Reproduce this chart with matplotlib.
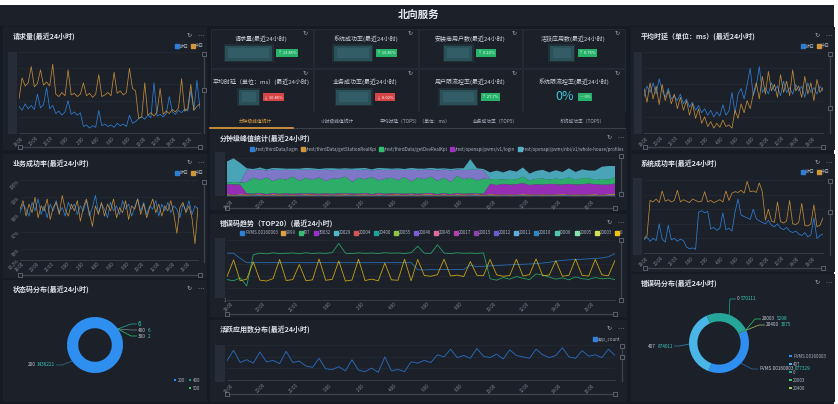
import numpy as np
import matplotlib
matplotlib.use('Agg')
import matplotlib.pyplot as plt
from matplotlib.patches import Rectangle
from matplotlib.lines import Line2D

plt.rcParams['font.family'] = ['Noto Sans CJK SC', 'DejaVu Sans']

# ---------------- 数据 ----------------
hour_labels = ['18:00', '20:00', '22:00', '0:00', '2:00', '4:00',
               '6:00', '8:00', '10:00', '12:00', '14:00', '16:00']
day_names = ['昨日', '今日']

# 请求量(最近24小时)
req_yesterday = [33, 28, 36, 30, 34, 29, 48, 31, 35, 56, 30, 34, 24, 27, 22, 26, 40, 23, 26, 22,
                 25, 8, 10, 6, 9, 7, 28, 9, 11, 8, 10, 7, 12, 9, 11, 8, 22, 12, 14, 18,
                 20, 17, 22, 19, 62, 21, 23, 20, 24, 45, 26, 23, 28, 25, 30, 27, 52, 28, 65, 30]
req_today = [42, 68, 58, 62, 82, 57, 61, 78, 59, 63, 58, 85, 48, 45, 50, 46, 78, 47, 49, 45,
             48, 62, 46, 49, 44, 48, 72, 45, 47, 50, 46, 75, 49, 52, 47, 50, 80, 55, 52, 18,
             20, 62, 22, 25, 21, 26, 55, 23, 27, 24, 29, 26, 31, 67, 27, 30, 60, 28, 33, 36]

# 业务成功率(最近24小时), %
biz_yesterday = [98.1, 98.6, 98.3, 97.9, 98.7, 98.2, 98.9, 98.0, 98.5, 97.8, 98.6, 98.2, 98.8, 98.1, 98.4,
                 97.9, 98.7, 98.3, 98.6, 98.0, 98.5, 98.2, 98.8, 97.9, 98.4, 99.1, 98.1, 98.6, 98.3, 97.8,
                 98.7, 98.2, 98.5, 98.0, 98.8, 98.3, 98.6, 97.9, 98.4, 98.9, 98.2, 98.7, 98.0, 98.5, 98.3,
                 98.8, 97.9, 98.6, 98.2, 98.7, 98.1, 98.5, 98.3, 97.8, 98.6, 98.2, 98.8, 98.0, 98.5, 98.3]
biz_today = [98.3, 98.8, 97.9, 98.6, 98.1, 99.0, 97.8, 98.5, 98.2, 98.9, 97.7, 98.4, 98.7, 98.0, 99.1,
             98.3, 97.9, 98.6, 98.2, 98.8, 97.6, 98.4, 98.9, 98.1, 97.3, 98.5, 98.0, 98.7, 97.9, 98.6,
             98.2, 98.9, 97.8, 98.4, 98.1, 98.8, 97.7, 98.5, 98.3, 98.9, 98.0, 98.6, 97.8, 98.4, 98.9,
             98.1, 98.6, 97.9, 98.5, 98.2, 98.8, 98.0, 96.9, 98.4, 98.7, 98.1, 98.5, 97.8, 96.3, 98.4]
biz_ticks = [95.35, 96, 97, 98, 99, 100]
biz_tick_labels = ['95.3%', '96%', '97%', '98%', '99%', '100%']

# 平均时延（单位：ms）(最近24小时)
lat_yesterday = [45, 58, 50, 62, 48, 67, 52, 44, 55, 42, 46, 40, 48, 36, 42, 32, 38, 28, 34, 25,
                 30, 22, 28, 20, 26, 21, 35, 22, 27, 50, 24, 48, 55, 42, 60, 80, 46, 58, 82, 50,
                 56, 48, 62, 52, 58, 46, 64, 50, 56, 48, 60, 52, 58, 44, 62, 50, 56, 48, 58, 52]
lat_today = [55, 38, 62, 42, 58, 35, 60, 40, 52, 36, 48, 30, 44, 28, 40, 22, 36, 18, 30, 12,
             20, 8, 14, 6, 12, 7, 16, 8, 10, 6, 28, 18, 36, 25, 40, 30, 48, 62, 42, 70,
             48, 76, 52, 60, 44, 72, 50, 64, 46, 78, 52, 58, 44, 70, 48, 62, 40, 66, 50, 56]

# 系统成功率(最近24小时)
sys_yesterday = [18, 22, 16, 20, 17, 40, 19, 15, 38, 18, 20, 16, 19, 17, 8, 6, 7, 5, 56, 58,
                 55, 57, 33, 35, 31, 34, 55, 32, 34, 30, 56, 74, 52, 50, 48, 46, 60, 47, 44, 42,
                 40, 45, 38, 36, 40, 34, 32, 35, 30, 28, 30, 26, 24, 28, 22, 25, 48, 20, 24, 26]
sys_today = [20, 24, 72, 70, 74, 69, 85, 71, 73, 70, 72, 86, 70, 73, 71, 69, 74, 72, 70, 71,
             84, 70, 72, 69, 71, 73, 70, 85, 72, 82, 84, 83, 86, 82, 98, 84, 85, 83, 96, 84,
             45, 60, 44, 42, 70, 43, 41, 44, 72, 40, 39, 42, 68, 38, 37, 40, 66, 36, 38, 48]

# 分钟级峰值统计(最近24小时)
api_names = ['/rest/thirdData/login', '/rest/thirdData/getStationRealKpi',
             '/rest/thirdData/getDevRealKpi', '/rest/openapi/pvms/v1/login',
             '/rest/openapi/pvms/nbi/v1/whole-house/profiles']
peak_login = [2, 1, 2, 1, 2, 2, 1, 2, 1, 2, 1, 2, 2, 1, 2, 1, 2, 1, 2, 2,
              1, 2, 1, 2, 2, 1, 2, 1, 2, 1, 2, 2, 1, 2, 1, 2, 1, 2, 2, 1,
              2, 1, 2, 1, 2, 2, 1, 2, 1, 2, 1, 2, 2, 1, 2, 1, 2, 1, 2, 2]
peak_station = [3, 2, 3, 3, 2, 3, 2, 3, 3, 2, 3, 2, 3, 3, 2, 3, 2, 3, 3, 2,
                3, 3, 2, 3, 2, 3, 3, 2, 3, 2, 3, 3, 2, 3, 2, 3, 3, 2, 3, 2,
                3, 3, 2, 3, 2, 3, 3, 2, 3, 2, 3, 3, 2, 3, 2, 3, 3, 2, 3, 3]
peak_dev_kpi = [4, 6, 5, 30, 42, 34, 44, 31, 40, 36, 45, 33, 41, 35, 43, 32, 40, 38, 44, 30,
                42, 36, 45, 33, 39, 41, 34, 44, 31, 42, 37, 43, 35, 40, 32, 45, 38, 41, 34, 40,
                12, 16, 11, 15, 13, 17, 12, 14, 16, 11, 15, 13, 17, 12, 16, 14, 11, 15, 13, 16]
peak_pvms_login = [26, 28, 25, 3, 2, 3, 2, 3, 2, 3, 2, 3, 2, 3, 2, 3, 2, 3, 2, 3,
                   2, 3, 2, 3, 2, 3, 2, 3, 2, 3, 2, 3, 2, 3, 2, 3, 2, 3, 2, 3,
                   27, 25, 28, 26, 27, 29, 25, 27, 26, 28, 27, 25, 28, 26, 27, 29, 26, 27, 25, 28]
peak_profiles = [56, 62, 52, 4, 3, 5, 3, 4, 5, 3, 4, 3, 5, 4, 3, 4, 5, 3, 4, 3,
                 5, 4, 3, 4, 5, 3, 4, 3, 5, 4, 3, 4, 5, 3, 4, 3, 5, 28, 4, 3,
                 18, 22, 19, 23, 20, 24, 18, 21, 23, 19, 22, 20, 24, 21, 23, 20, 25, 32, 36, 30]
# 图例被截断的第六个接口
peak_other = [0, 0, 0, 32, 20, 28, 18, 31, 22, 26, 17, 29, 21, 27, 19, 30, 22, 24, 18, 32,
              20, 26, 17, 29, 23, 21, 28, 18, 31, 20, 25, 19, 27, 22, 30, 17, 24, 21, 28, 22,
              0, 0, 0, 0, 0, 0, 0, 0, 0, 0, 0, 0, 0, 0, 0, 0, 0, 0, 0, 0]

# 错误码趋势（TOP20）(最近24小时)
err_codes = ['PVMS.00160003', '9999', '407', '30032', '20029', '20004', '20400', '20055', '20046',
             '20045', '20017', '20015', '20012', '20011', '20010', '20006', '20005', '20003', '0']
err_colors = ['#2f7fd6', '#e0a040', '#2fbf71', '#9b30c8', '#4fb8c9', '#d9534f', '#1aa39a',
              '#8dc63f', '#7b5cd6', '#e06b9a', '#b03fb0', '#8e44ad', '#6a5acd', '#5dade2',
              '#2e86c1', '#48c9b0', '#82e0aa', '#d4e157', '#f1c40f']
err_pvms = [8000, 7800, 3000, 1300, 1280, 1310, 1290, 1300, 1270, 1300, 1290, 1310, 1280, 1300, 1290,
            1300, 1310, 1280, 1300, 1290, 1300, 1280, 1310, 1290, 1300, 1280, 1300, 1290, 1310, 330,
            320, 340, 330, 350, 330, 360, 350, 800, 600, 650, 700, 750, 800, 850, 900,
            950, 1000, 1100, 1200, 1400, 1700, 2000, 2200, 2400, 2500, 2700, 2900, 3200, 4000, 7500]
err_407 = [50, 40, 70, 15, 6000, 8000, 7000, 8500, 7200, 7800, 8300, 7100, 8600, 7400, 8100,
           7600, 8800, 52000, 8000, 7300, 8400, 7700, 8200, 7500, 8600, 7900, 8300, 7400, 8700, 30000,
           8000, 7600, 40000, 8200, 7300, 8500, 7800, 8100, 7600, 8400, 60, 45, 75, 55, 90,
           65, 50, 150, 120, 80, 55, 70, 48, 85, 60, 52, 75, 58, 66, 50]
err_0 = [90, 2200, 40, 55, 1500, 45, 38, 60, 2400, 42, 50, 900, 40, 48, 2600, 44, 52, 1800, 38, 46,
         2500, 42, 55, 40, 1200, 48, 44, 2500, 40, 2400, 110, 95, 130, 2500, 100, 120, 90, 1600, 115, 105,
         2400, 125, 95, 110, 2500, 100, 130, 2700, 105, 120, 1900, 95, 115, 2600, 110, 100, 2400, 125, 105, 2000]
err_20055 = [1, 1, 1, 1, 1, 1, 1, 1, 1, 1, 1, 1, 1, 1, 1, 1, 1, 1, 1, 1,
             1, 1, 1, 1, 1, 1, 1, 1, 1, 1, 1, 1, 1, 1, 1, 1, 1, 1, 1, 1,
             1, 1, 1, 1, 1, 1, 1, 1, 1, 1, 1, 1, 1, 1, 1, 1, 1, 1, 1, 1]

# 活跃应用数分布(最近24小时)
app_count = [55, 85, 50, 58, 48, 80, 52, 56, 47, 82, 50, 54, 40, 36, 62, 32, 30, 38, 26, 58,
             28, 24, 34, 22, 66, 26, 30, 24, 52, 48, 56, 50, 72, 66, 88, 64, 70, 62, 90, 68,
             64, 74, 60, 86, 70, 66, 62, 88, 72, 64, 70, 92, 66, 62, 84, 68, 72, 64, 88, 70]

# 状态码分布(最近24小时)
status_codes = ['200', '500', '400', '300']
status_counts = [1436221, 6, 6, 2]
status_legend = ['200', '400', '500']

# 错误码分布(最近24小时)
err_dist_codes = ['PVMS.00160003', '407', '0', '20003', '20400']
err_dist_counts = [877329, 874011, 570111, 5298, 3075]

# 指标卡片
kpi_titles = ['请求量(最近24小时)', '系统成功率(最近24小时)', '安装商用户数(最近24小时)', '活跃应用数(最近24小时)',
              '平均时延（单位：ms）(最近24小时)', '业务成功率(最近24小时)', '用户限流控率(最近24小时)', '系统限流控率(最近24小时)']
kpi_changes = ['13.85%', '16.81%', '0.22%', '0.75%', '10.85%', '0.02%', '27.7%', '0%']
kpi_trend = ['up', 'up', 'up', 'up', 'down', 'down', 'up', 'flat']
kpi_last_value = '0%'

tab_names = ['分钟级峰值统计', '小时级峰值统计', '平均时延（TOP5）（单位：ms）', '业务成功率（TOP5）', '系统成功率（TOP5）']

# ---------------- 样式 ----------------
W, H = 838, 404
BG = '#151a23'
PANEL = '#1b2029'
GRID = '#262c37'
TXT = '#dfe4ec'
TICK = '#7f8796'
BLUE = '#2f7ed4'
ORANGE = '#d2963a'
TEAL = '#3cc9bd'
ICON = ['DejaVu Sans']

fig = plt.figure(figsize=(W / 100, H / 100), dpi=100, facecolor='white')
bg = fig.add_axes([0, 0, 1, 1])
bg.set_xlim(0, W)
bg.set_ylim(H, 0)
bg.axis('off')
bg.add_patch(Rectangle((0, 5), 834, H - 5, fc=BG, lw=0))
renderer = fig.canvas.get_renderer()


def frame(x0, y0, x1, y1):
    return [x0 / W, 1 - y1 / H, (x1 - x0) / W, (y1 - y0) / H]


def width_of(t):
    return t.get_window_extent(renderer=renderer).width


def icons(x, y):
    bg.text(x - 11, y, '↻', color='#9aa2b0', fontsize=4.5, ha='center', va='center', family=ICON)
    bg.text(x, y, '⋯', color='#9aa2b0', fontsize=4.5, ha='center', va='center', family=ICON)


def panel(x0, y0, x1, y1, title):
    bg.add_patch(Rectangle((x0, y0), x1 - x0, y1 - y0, fc=PANEL, lw=0))
    bg.text(x0 + 10, y0 + 9, title, color=TXT, fontsize=5, fontweight='bold', va='center')
    icons(x1 - 7, y0 + 8)


def strip(x0, y0, x1, y1):
    bg.add_patch(Rectangle((x0, y0), x1 - x0, y1 - y0, fc='#272d38', lw=0))


def vslider(x, y0, y1, handles):
    bg.plot([x, x], [y0, y1], color='#3d434f', lw=0.9)
    for hy in handles:
        bg.add_patch(Rectangle((x - 1.8, hy - 1.8), 3.6, 3.6, fc=PANEL, ec='#727886', lw=0.5, zorder=3))


def hslider(y, x0, x1):
    bg.plot([x0, x1], [y, y], color='#3d434f', lw=0.9)
    for hx in (x0, x1):
        bg.add_patch(Rectangle((hx - 1.6, y - 1.6), 3.2, 3.2, fc=PANEL, ec='#727886', lw=0.5, zorder=3))


def chart(box, ylim, n, log=False):
    ax = fig.add_axes(frame(*box))
    ax.set_facecolor('none')
    if log:
        ax.set_yscale('log')
    ax.set_xlim(0, n - 1)
    ax.set_ylim(*ylim)
    for s in ['top', 'right', 'left']:
        ax.spines[s].set_visible(False)
    ax.spines['bottom'].set_color('#3b424e')
    ax.spines['bottom'].set_linewidth(0.6)
    ax.grid(axis='y', color=GRID, lw=0.5)
    ax.set_axisbelow(True)
    ax.set_xticks(np.arange(len(hour_labels)) * 5 + 0.5)
    ax.set_xticklabels(hour_labels, rotation=45, ha='right', rotation_mode='anchor')
    ax.tick_params(length=0, labelsize=3.2, colors=TICK, pad=2, labelleft=False)
    ax.minorticks_off()
    return ax


def legend_at(ax, names, colors, x, y, loc, ncol, spacing=1.0):
    handles = [Line2D([], [], marker='s', ls='none', color=c, markersize=2.4) for c in colors]
    ax.legend(handles, names, loc=loc, bbox_to_anchor=(x / W, 1 - y / H), bbox_transform=fig.transFigure,
              ncol=ncol, frameon=False, fontsize=3.2, labelcolor='#aeb6c4', handlelength=0.6,
              handletextpad=0.3, columnspacing=spacing, borderpad=0, borderaxespad=0)


def two_day(box, yest, today, ylim):
    ax = chart(box, ylim, len(yest))
    x = np.arange(len(yest))
    ax.plot(x, yest, color=BLUE, lw=0.55)
    ax.plot(x, today, color=ORANGE, lw=0.55, alpha=0.9)
    ax.set_yticks(np.linspace(ylim[0], ylim[1], 6))
    ax.tick_params(labelleft=False)
    return ax


def label_pair(x, y, name, value, ha, big=False):
    size = 4.5 if big else 3.4
    if ha == 'left':
        t = bg.text(x, y, name, color='#c3c9d3', fontsize=3.4, va='center', ha='left')
        gap = width_of(t) + (1.5 if name else 0)
        bg.text(x + gap, y, value, color=TEAL, fontsize=size, va='center', ha='left')
    else:
        t = bg.text(x, y, value, color=TEAL, fontsize=size, va='center', ha='right')
        bg.text(x - width_of(t) - 1.5, y, name, color='#c3c9d3', fontsize=3.4, va='center', ha='right')


def donut(cx, cy, r, values, colors, start, width):
    ax = fig.add_axes(frame(cx - r, cy - r, cx + r, cy + r))
    wedges, _ = ax.pie(values, colors=colors, startangle=start, counterclock=False,
                       radius=1, wedgeprops=dict(width=width, lw=0))
    ax.set_xlim(-1, 1)
    ax.set_ylim(-1, 1)
    ax.axis('off')
    return wedges


def leaders(wedges, cx, cy, r, labels, place, colors, big_first=False):
    for i, (w, (tx, ty, ha)) in enumerate(zip(wedges, place)):
        a = np.deg2rad((w.theta1 + w.theta2) / 2)
        sx, sy = cx + r * np.cos(a), cy - r * np.sin(a)
        bx = tx - 7 if ha == 'left' else tx + 7
        ex = tx - 1.5 if ha == 'left' else tx + 1.5
        bg.plot([sx, bx, ex], [sy, ty, ty], color=colors[i], lw=0.5)
        name, value = labels[i]
        label_pair(tx, ty, name, value, ha, big=(big_first and i == 1))


# ---------------- 头部 ----------------
bg.add_patch(Rectangle((0, 5), 834, 21, fc=PANEL, lw=0))
bg.text(419, 15, '北向服务', color='#e8edf4', fontsize=7.5, fontweight='bold', ha='center', va='center')

# ---------------- 左列 ----------------
panel(3, 27, 207, 150, '请求量(最近24小时)')
strip(8, 52, 17, 134)
ax = two_day((19, 52, 200, 133), req_yesterday, req_today, (0, 100))
legend_at(ax, day_names, [BLUE, ORANGE], 204, 46, 'center right', 2, 0.6)
vslider(204, 54, 133, [54, 90])
hslider(147, 20, 200)

panel(3, 154, 207, 278, '业务成功率(最近24小时)')
ax = two_day((20, 180, 198, 260), biz_yesterday, biz_today, (95.35, 100))
ax.set_yticks(biz_ticks)
ax.set_yticklabels(biz_tick_labels)
ax.tick_params(labelleft=True, pad=1)
for lab in ax.get_yticklabels():
    lab.set_rotation(45)
    lab.set_ha('right')
    lab.set_rotation_mode('anchor')
legend_at(ax, day_names, [BLUE, ORANGE], 204, 173, 'center right', 2, 0.6)
vslider(204, 180, 262, [182])
hslider(275, 20, 200)

panel(3, 280, 207, 402, '状态码分布(最近24小时)')
status_colors = ['#2f8ff0', '#22b5a5', '#1a9c8a', '#2ecc71']
wd = donut(95, 345, 28, status_counts, status_colors, 35, 0.4)
status_labels = [(c if k != 1 else '', str(v)) for k, (c, v) in enumerate(zip(status_codes, status_counts))]
leaders(wd, 95, 345, 28, status_labels,
        [(55, 365, 'right'), (138, 324, 'left'), (138, 330, 'left'), (138, 336, 'left')],
        ['#3a6e9a', '#22b5a5', '#6f8f8a', '#2ecc71'], big_first=True)
legend_pos = [(175, 380), (190, 380), (190, 388)]
legend_col = {'200': '#2f8ff0', '400': '#1a9c8a', '500': '#2ecc71'}
for code, (lx, ly) in zip(status_legend, legend_pos):
    bg.add_patch(Rectangle((lx - 1.3, ly - 1.3), 2.6, 2.6, fc=legend_col[code], lw=0))
    bg.text(lx + 2.5, ly, code, color='#aeb6c4', fontsize=3.2, va='center')

# ---------------- 右列 ----------------
panel(631, 27, 835, 150, '平均时延（单位：ms）(最近24小时)')
strip(634, 52, 642, 134)
ax = two_day((644, 52, 823, 133), lat_yesterday, lat_today, (0, 100))
legend_at(ax, day_names, [BLUE, ORANGE], 830, 46, 'center right', 2, 0.6)
vslider(830, 54, 133, [54, 108])
hslider(147, 645, 823)

panel(631, 154, 835, 272, '系统成功率(最近24小时)')
strip(633, 178, 642, 255)
ax = two_day((644, 180, 823, 253), sys_yesterday, sys_today, (0, 100))
legend_at(ax, day_names, [BLUE, ORANGE], 830, 172, 'center right', 2, 0.6)
vslider(830, 180, 255, [181, 212])
hslider(268, 645, 823)

panel(631, 274, 835, 402, '错误码分布(最近24小时)')
dist_colors = ['#2f8ff0', '#4ab6e8', '#26a69a', '#2ecc71', '#9ccc65']
wd = donut(719, 343, 30, err_dist_counts, dist_colors, 25, 0.28)
dist_labels = [(c, str(v)) for c, v in zip(err_dist_codes, err_dist_counts)]
leaders(wd, 719, 343, 30, dist_labels,
        [(759, 369, 'left'), (673, 346, 'right'), (737, 299, 'left'), (762, 319, 'left'), (766, 325, 'left')],
        ['#2f6fb0', '#3a8fb8', '#26a69a', '#2ecc71', '#9ccc65'])
for k, (code, c) in enumerate(zip(err_dist_codes, dist_colors)):
    ly = 356 + k * 8
    bg.add_patch(Rectangle((789, ly - 1.4), 2.8, 2.8, fc=c, lw=0))
    bg.text(793, ly, code, color='#aeb6c4', fontsize=3.2, va='center')

# ---------------- 指标卡片 ----------------
cols = [210, 313, 418, 522, 625]
rows = [28, 68, 112]
title_dy = [11, 14]
value_dy = [25, 29]
blur_w = [47, 38, 28, 24, 20, 35, 37, 0]
badge_col = {'up': '#27b36a', 'down': '#d64545', 'flat': '#27b36a'}
arrow = {'up': '↑', 'down': '↓', 'flat': '—'}
for i, title in enumerate(kpi_titles):
    r, c = divmod(i, 4)
    x0, x1, y0, y1 = cols[c], cols[c + 1], rows[r], rows[r + 1]
    bg.add_patch(Rectangle((x0 + 0.5, y0 + 0.5), x1 - x0 - 1, y1 - y0 - 1, fc=PANEL, ec='#242a35', lw=0.8))
    cx = (x0 + x1) / 2
    bg.text(cx, y0 + title_dy[r], title, color='#cfd5de', fontsize=4.3, ha='center', va='center')
    bg.text(x1 - 8, y0 + 5, '↻', color='#9aa2b0', fontsize=4.5, ha='center', va='center', family=ICON)
    vy = y0 + value_dy[r]
    bt = bg.text(0, vy, arrow[kpi_trend[i]] + ' ' + kpi_changes[i], color='white', fontsize=2.9,
                 va='center', ha='left', bbox=dict(boxstyle='square,pad=0.4', fc=badge_col[kpi_trend[i]], ec='none'))
    bwid = width_of(bt) + 3
    if kpi_trend[i] == 'flat':
        vt = bg.text(0, vy, kpi_last_value, color='#3ec6d8', fontsize=9, va='center', ha='left')
        vw = width_of(vt)
        start = cx - (vw + 4 + bwid) / 2
        vt.set_position((start, vy))
    else:
        vw = blur_w[i]
        start = cx - (vw + 4 + bwid) / 2
        bg.add_patch(Rectangle((start - 1.5, vy - 9), vw + 3, 18, fc='#26414a', alpha=0.5, lw=0))
        bg.add_patch(Rectangle((start, vy - 7.5), vw, 15, fc='#2c5058', lw=0))
        bg.add_patch(Rectangle((start + 3, vy - 5), vw - 6, 10, fc='#335d66', lw=0))
    bt.set_position((start + vw + 5.5, vy))

# 标签页
tab_x = [255, 337, 415, 495, 582]
bg.add_patch(Rectangle((210, 112), 415, 17, fc=PANEL, lw=0))
for k, (name, tx) in enumerate(zip(tab_names, tab_x)):
    bg.text(tx, 121, name, color='#e0a040' if k == 0 else '#aab2c0', fontsize=3.4, ha='center', va='center')
bg.plot([293, 625], [128, 128], color='#3a404c', lw=0.8)
bg.plot([210, 293], [128, 128], color='#e0a040', lw=1.2)

# ---------------- 中列图表 ----------------
panel(210, 129, 627, 210, '分钟级峰值统计(最近24小时)')
strip(215, 152, 225, 196)
ax = chart((227, 158, 615, 196), (0, 100), len(peak_login))
x = np.arange(len(peak_login))
ax.stackplot(x, peak_login, peak_station, peak_pvms_login, peak_dev_kpi, peak_other, peak_profiles,
             colors=[BLUE, ORANGE, '#a330c4', '#2fbf71', '#8a80d8', '#4fb3c8'], alpha=0.9, lw=0)
ax.set_yticks(np.linspace(0, 100, 4))
legend_at(ax, api_names, [BLUE, ORANGE, '#2fbf71', '#a330c4', '#4fb3c8'], 251, 149, 'center left', 5, 0.7)
vslider(621, 156, 196, [156, 194])
hslider(208, 227, 615)

panel(210, 214, 627, 317, '错误码趋势（TOP20）(最近24小时)')
strip(215, 238, 225, 298)
ax = chart((227, 240, 615, 300), (1, 1e5), len(err_pvms), log=True)
x = np.arange(len(err_pvms))
series = {'PVMS.00160003': err_pvms, '407': err_407, '0': err_0, '20055': err_20055}
for code, vals in series.items():
    ax.plot(x, vals, color=err_colors[err_codes.index(code)], lw=0.6, alpha=0.8)
ax.set_yticks([1, 10, 100, 1000, 10000, 100000])
ax.set_yticklabels(['1', '', '', '', '', ''])
ax.tick_params(labelleft=True, pad=1)
ax.minorticks_off()
legend_at(ax, err_codes, err_colors, 241, 233, 'center left', len(err_codes), 0.85)
vslider(621, 240, 300, [240, 300])
hslider(314, 227, 615)

panel(210, 320, 627, 402, '活跃应用数分布(最近24小时)')
strip(215, 345, 225, 382)
ax = chart((227, 345, 615, 380), (0, 100), len(app_count))
ax.plot(np.arange(len(app_count)), app_count, color='#2a6ab8', lw=0.65)
ax.set_yticks(np.linspace(0, 100, 4))
legend_at(ax, ['app_count'], ['#2f80d8'], 620, 339, 'center right', 1)
vslider(622, 345, 381, [346, 357])
hslider(394, 227, 615)

fig.savefig('out.png', dpi=100, facecolor=fig.get_facecolor())
